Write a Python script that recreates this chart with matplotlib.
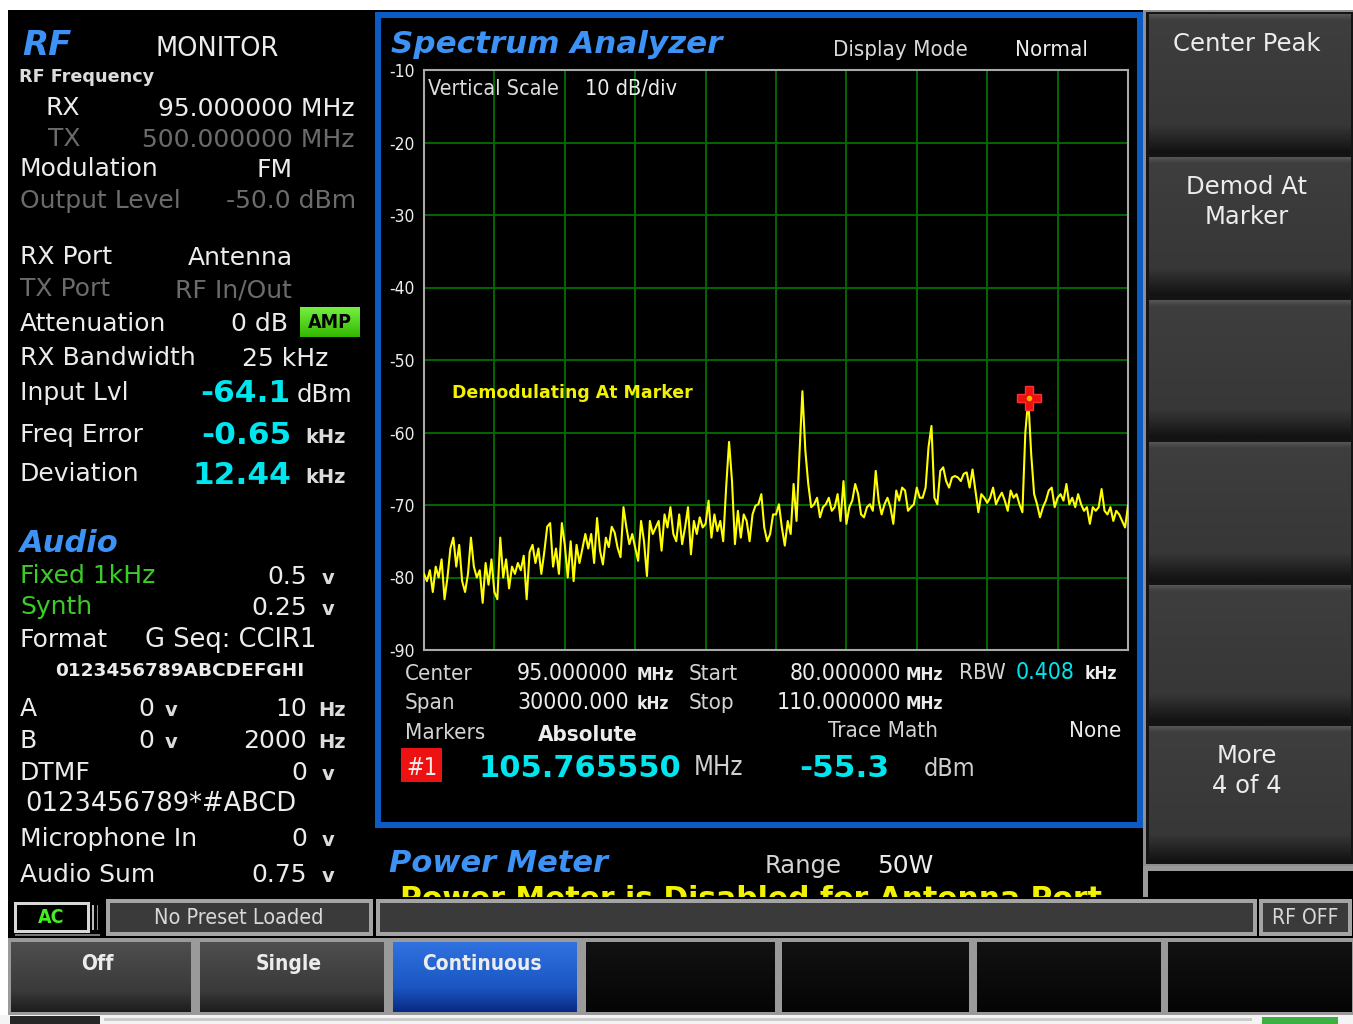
import numpy as np
import matplotlib
matplotlib.use("Agg")
import matplotlib.pyplot as plt
from matplotlib.patches import Rectangle
from matplotlib.colors import LinearSegmentedColormap
from matplotlib import font_manager as fm

W, H = 1353, 1024

# ---------------- data ----------------
sweep_start_mhz = 80.0
sweep_step_mhz = 0.125
trace_dbm = [
    -79.5, -80.5, -79.0, -82.0, -78.5, -80.0, -77.5, -83.0,   # 80
    -80.0, -76.0, -74.5, -78.5, -75.5, -80.5, -82.0, -79.5,   # 81
    -74.5, -78.5, -80.0, -79.0, -83.5, -78.0, -81.0, -77.5,   # 82
    -82.0, -83.0, -74.5, -80.0, -77.5, -81.5, -78.5, -79.5,   # 83
    -78.0, -79.0, -77.0, -83.0, -76.5, -75.5, -78.0, -76.0,   # 84
    -79.5, -76.5, -73.0, -72.5, -78.5, -76.0, -79.5, -72.5,   # 85
    -75.5, -80.0, -75.0, -80.5, -75.5, -78.0, -76.0, -74.0,   # 86
    -76.0, -74.0, -78.0, -71.8, -76.3, -78.2, -74.5, -75.8,   # 87
    -73.0, -73.8, -75.9, -77.2, -70.3, -73.1, -75.4, -74.0,   # 88
    -75.9, -77.7, -72.2, -75.0, -79.8, -72.2, -74.0, -73.1,   # 89
    -72.2, -76.3, -71.3, -73.1, -70.3, -74.0, -75.0, -71.3,   # 90
    -75.4, -73.1, -70.3, -76.8, -72.2, -74.0, -71.7, -73.1,   # 91
    -72.6, -69.4, -74.5, -71.3, -73.6, -72.2, -75.0, -67.6,   # 92
    -61.3, -66.7, -75.4, -70.8, -74.5, -71.3, -72.2, -75.0,   # 93
    -71.3, -70.1, -69.9, -68.5, -73.1, -75.0, -74.0, -71.3,   # 94
    -71.3, -69.9, -73.1, -75.6, -72.2, -74.0, -67.1, -72.2,   # 95
    -63.0, -54.3, -62.5, -67.1, -70.3, -69.9, -69.0, -71.7,   # 96
    -70.3, -69.9, -69.0, -70.8, -70.3, -68.5, -72.2, -66.7,   # 97
    -72.6, -70.3, -69.4, -67.1, -68.5, -71.3, -71.7, -70.3,   # 98
    -69.9, -70.8, -65.3, -69.4, -71.3, -69.9, -69.0, -70.3,   # 99
    -72.6, -68.0, -69.4, -67.6, -68.0, -70.8, -70.3, -69.9,   # 100
    -67.6, -69.0, -69.0, -67.6, -62.0, -59.1, -69.0, -69.9,   # 101
    -65.3, -64.8, -66.7, -67.6, -66.2, -66.0, -66.2, -66.7,   # 102
    -65.7, -65.5, -67.6, -65.1, -68.0, -71.0, -68.5, -69.0,   # 103
    -69.7, -69.0, -67.6, -69.9, -69.0, -68.3, -69.4, -70.8,   # 104
    -68.0, -69.0, -68.5, -69.9, -71.0, -60.0, -55.3, -63.0,   # 105
    -68.5, -69.9, -71.7, -70.3, -69.4, -68.0, -67.6, -70.3,   # 106
    -69.0, -68.5, -69.4, -67.1, -69.9, -69.0, -70.3, -68.5,   # 107
    -69.9, -70.8, -70.3, -72.6, -70.3, -70.8, -70.3, -67.8,   # 108
    -70.8, -71.3, -70.3, -72.2, -70.8, -71.3, -72.2, -73.1,   # 109
    -70.1,                                                    # 110
]
y_tick_values = [-10, -20, -30, -40, -50, -60, -70, -80, -90]
y_tick_labels = ["-10", "-20", "-30", "-40", "-50", "-60", "-70", "-80", "-90"]
x_grid_mhz = [80, 83, 86, 89, 92, 95, 98, 101, 104, 107, 110]
marker_freq_mhz = 105.765550
marker_level_dbm = -55.3

softkeys = ["Center Peak", "Demod At\nMarker", "", "", "", "More\n4 of 4"]
bottom_keys = ["Off", "Single", "Continuous", "", "", "", ""]

# ---------------- fonts ----------------
names = {f.name for f in fm.fontManager.ttflist}
if "DejaVu Sans Condensed" in names:
    COND = dict(fontfamily=["DejaVu Sans Condensed"])
    CSCALE = 1.0
elif any(("Condensed" in f.fname and "DejaVuSans" in f.fname) for f in fm.fontManager.ttflist):
    COND = dict(fontfamily=["DejaVu Sans"], fontstretch="condensed")
    CSCALE = 1.0
elif "Liberation Sans Narrow" in names:
    COND = dict(fontfamily=["Liberation Sans Narrow"])
    CSCALE = 1.08
else:
    COND = dict(fontfamily=["DejaVu Sans"])
    CSCALE = 0.92

WHITE = "#ececec"
GREY = "#6b6b6b"
CYAN = "#00e6ee"
BLUE_T = "#3d93f5"
GREEN_T = "#3ccc28"
YEL = "#f2f200"

fig = plt.figure(figsize=(W / 100, H / 100), dpi=100, facecolor="white")
ui = fig.add_axes([0, 0, 1, 1])
ui.set_axis_off()
ui.set_zorder(0)


def R(x0, y0, x1, y1, color, z=1, **kw):
    ui.add_patch(Rectangle((x0, y0), x1 - x0, y1 - y0, facecolor=color,
                           edgecolor="none", zorder=z, **kw))


def G(x0, y0, x1, y1, stops, z=2):
    cmap = LinearSegmentedColormap.from_list("g", stops)
    arr = np.linspace(0, 1, 128).reshape(-1, 1)
    ui.imshow(arr, cmap=cmap, extent=(x0, x1, y1, y0), aspect="auto",
              zorder=z, interpolation="bilinear", vmin=0, vmax=1)


def T(x, y, s, size, color=WHITE, ha="left", va="baseline", weight="normal",
      style="normal", cond=False, z=5, axes=None):
    kw = {}
    if cond:
        kw.update(COND)
        size = size * CSCALE
    else:
        kw["fontfamily"] = ["DejaVu Sans"]
    tgt = ui if axes is None else axes
    extra = {} if axes is None else {"transform": ui.transData}
    tgt.text(x, y, s, fontsize=size, color=color, ha=ha, va=va,
             fontweight=weight, fontstyle=style, zorder=z, **kw, **extra)


# ---------------- backgrounds ----------------
R(8, 10, W, 1016, "#000000", z=0.5)
# spectrum panel blue frame
R(375, 12, 1143, 828, "#0a5cc4", z=1)
R(381, 18, 1137, 822, "#000000", z=1.1)

# ---------------- left panel ----------------
T(22, 55, "RF", 24.5, BLUE_T, weight="bold", style="italic")
T(155, 56, "MONITOR", 18.5)
T(19, 82, "RF Frequency", 12.7, "#dcdcdc", weight="bold")
T(45, 115, "RX", 18)
T(355, 116, "95.000000 MHz", 18, ha="right")
T(48, 146, "TX", 18, GREY)
T(355, 147, "500.000000 MHz", 18, GREY, ha="right")
T(20, 176, "Modulation", 18)
T(293, 177, "FM", 18, ha="right")
T(20, 208, "Output Level", 18, GREY)
T(356, 208, "-50.0 dBm", 18, GREY, ha="right")
T(20, 264, "RX Port", 18)
T(293, 265, "Antenna", 18, ha="right")
T(20, 296, "TX Port", 18, GREY)
T(292, 297, "RF In/Out", 18, GREY, ha="right")
T(20, 331, "Attenuation", 18)
T(288, 331, "0 dB", 18, ha="right")
G(300, 307, 360, 337, [(0, "#77f040"), (1, "#33b800")], z=2)
T(330, 323, "AMP", 14, "#000000", ha="center", va="center", weight="bold", cond=True)
T(20, 365, "RX Bandwidth", 18)
T(328, 366, "25 kHz", 18, ha="right")
T(20, 400, "Input Lvl", 18)
T(290, 402, "-64.1", 22.5, CYAN, ha="right", weight="bold")
T(297, 402, "dBm", 17.5)
T(20, 442, "Freq Error", 18)
T(291, 444, "-0.65", 22.5, CYAN, ha="right", weight="bold")
T(305, 443, "kHz", 14, "#dcdcdc", weight="bold")
T(20, 481, "Deviation", 18)
T(291, 484, "12.44", 22.5, CYAN, ha="right", weight="bold")
T(305, 483, "kHz", 14, "#dcdcdc", weight="bold")

T(20, 552, "Audio", 22, BLUE_T, weight="bold", style="italic")
T(20, 583, "Fixed 1kHz", 18, GREEN_T)
T(307, 584, "0.5", 18, ha="right")
T(322, 584, "v", 14, "#dcdcdc", weight="bold")
T(20, 614, "Synth", 18, GREEN_T)
T(307, 615, "0.25", 18, ha="right")
T(322, 615, "v", 14, "#dcdcdc", weight="bold")
T(20, 647, "Format", 18)
T(145, 647, "G Seq: CCIR1", 18.5)
T(55, 676, "0123456789ABCDEFGHI", 13.3, weight="bold")
T(20, 716, "A", 18)
T(138, 716, "0", 18)
T(165, 716, "v", 14, "#dcdcdc", weight="bold")
T(307, 716, "10", 18, ha="right")
T(318, 716, "Hz", 14, "#dcdcdc", weight="bold")
T(20, 748, "B", 18)
T(138, 748, "0", 18)
T(165, 748, "v", 14, "#dcdcdc", weight="bold")
T(307, 748, "2000", 18, ha="right")
T(318, 748, "Hz", 14, "#dcdcdc", weight="bold")
T(20, 780, "DTMF", 18)
T(307, 780, "0", 18, ha="right")
T(322, 780, "v", 14, "#dcdcdc", weight="bold")
T(25, 811, "0123456789*#ABCD", 18.5)
T(20, 846, "Microphone In", 18)
T(307, 846, "0", 18, ha="right")
T(322, 846, "v", 14, "#dcdcdc", weight="bold")
T(20, 882, "Audio Sum", 18)
T(307, 882, "0.75", 18, ha="right")
T(322, 882, "v", 14, "#dcdcdc", weight="bold")

# ---------------- spectrum analyzer ----------------
T(391, 53, "Spectrum Analyzer", 22.3, BLUE_T, weight="bold", style="italic", z=3)
T(833, 56, "Display Mode", 16, "#d8d8d8", cond=True, z=3)
T(1015, 56, "Normal", 16, WHITE, cond=True, z=3)

ax = fig.add_axes([424 / W, 1 - 650 / H, (1128 - 424) / W, (650 - 70) / H])
ax.set_zorder(2)
ax.set_facecolor("none")
freqs = sweep_start_mhz + sweep_step_mhz * np.arange(len(trace_dbm))
ax.plot(freqs, trace_dbm, color="#ffff00", lw=1.5, zorder=3)
ax.plot([marker_freq_mhz], [marker_level_dbm], marker="P", ms=17,
        color="#ee1010", mec="#ff3030", zorder=4, linestyle="none")
ax.plot([marker_freq_mhz], [marker_level_dbm], marker="o", ms=3,
        color="#ffb000", zorder=5, linestyle="none")
ax.set_xlim(80, 110)
ax.set_ylim(-90, -10)
ax.set_xticks(x_grid_mhz)
ax.set_yticks(y_tick_values)
ax.set_yticklabels(y_tick_labels)
ax.tick_params(axis="x", length=0, labelbottom=False)
ax.tick_params(axis="y", length=0, pad=7, labelcolor=WHITE)
for lbl in ax.get_yticklabels():
    lbl.set_fontfamily(COND["fontfamily"])
    if "fontstretch" in COND:
        lbl.set_fontstretch(COND["fontstretch"])
    lbl.set_fontsize(12.5 * CSCALE)
ax.grid(True, color="#006800", lw=1.4, zorder=1)
ax.set_axisbelow(True)
for s in ax.spines.values():
    s.set_color("#a8a8a8")
    s.set_linewidth(1.5)

T(428, 95, "Vertical Scale", 15.5, "#dcdcdc", cond=True, z=6, axes=ax)
T(585, 95, "10 dB/div", 15.5, WHITE, cond=True, z=6, axes=ax)
T(452, 398, "Demodulating At Marker", 12.5, YEL, weight="bold", z=6, axes=ax)

# info rows
T(405, 680, "Center", 16, "#d4d4d4", cond=True)
T(517, 680, "95.000000", 16.5, WHITE, cond=True)
T(637, 680, "MHz", 12.5, WHITE, cond=True, weight="bold")
T(689, 680, "Start", 16, "#d4d4d4", cond=True)
T(901, 680, "80.000000", 16.5, WHITE, cond=True, ha="right")
T(906, 680, "MHz", 12.5, WHITE, cond=True, weight="bold")
T(959, 679, "RBW", 16, "#d4d4d4", cond=True)
T(1016, 679, "0.408", 16.5, CYAN, cond=True)
T(1085, 679, "kHz", 12.5, WHITE, cond=True, weight="bold")

T(405, 709, "Span", 16, "#d4d4d4", cond=True)
T(517, 709, "30000.000", 16.5, WHITE, cond=True)
T(637, 709, "kHz", 12.5, WHITE, cond=True, weight="bold")
T(689, 709, "Stop", 16, "#d4d4d4", cond=True)
T(901, 709, "110.000000", 16.5, WHITE, cond=True, ha="right")
T(906, 709, "MHz", 12.5, WHITE, cond=True, weight="bold")

T(405, 739, "Markers", 16, "#d4d4d4", cond=True)
T(538, 741, "Absolute", 16, WHITE, cond=True, weight="bold")
T(828, 737, "Trace Math", 16, "#d4d4d4", cond=True)
T(1121, 737, "None", 16, WHITE, cond=True, ha="right")

R(401, 748, 442, 782, "#ee1111", z=2)
T(421.5, 775, "#1", 17, WHITE, cond=True, ha="center")
T(479, 777, "105.765550", 22, CYAN, weight="bold")
T(694, 775, "MHz", 18.5, "#cfcfcf", cond=True)
T(889, 777, "-55.3", 22.5, CYAN, weight="bold", ha="right")
T(924, 776, "dBm", 18, "#cfcfcf", cond=True)

# ---------------- power meter ----------------
T(389, 872, "Power Meter", 22, BLUE_T, weight="bold", style="italic")
T(765, 873, "Range", 17.5, "#d4d4d4")
T(877, 873, "50W", 18, WHITE)
T(400, 908, "Power Meter is Disabled for Antenna Port", 21.5, YEL, weight="bold", z=2)

# ---------------- right soft keys ----------------
R(1143, 10, W, 866, "#8e8e8e", z=1)
R(1146, 12, W, 864, "#141414", z=1.1)
key_rows = [(14, 153), (157, 296), (300, 438), (442, 581), (585, 722), (726, 862)]
stops_grey = [(0, "#555555"), (0.04, "#3e3e3e"), (0.8, "#373737"), (1, "#121212")]
for (y0, y1), lab in zip(key_rows, softkeys):
    G(1149, y0, 1351, y1, stops_grey, z=2)
    if lab:
        lines = lab.split("\n")
        for i, ln in enumerate(lines):
            T(1247, y0 + 37 + i * 30, ln, 17.5, WHITE, ha="center", z=5)
R(1143, 866, W, 898, "#9a9a9a", z=1)
R(1148, 871, W, 898, "#000000", z=1.1)

# ---------------- status bar ----------------
R(8, 897, W, 939, "#000000", z=6)
R(14, 902, 90, 933, "#d8d8d8", z=6.1)
R(17, 905, 87, 930, "#000000", z=6.2)
T(51, 917.5, "AC", 14, "#44ee22", ha="center", va="center", weight="bold", cond=True, z=7)
R(92, 905, 94, 930, "#bbbbbb", z=6.2)
R(97, 905, 98, 930, "#888888", z=6.2)
R(15, 934, 100, 936, "#777777", z=6.2)
for (x0, x1) in [(106, 373), (376, 1257), (1259, 1352)]:
    R(x0, 899, x1, 936, "#a4a4a4", z=6.1)
    R(x0 + 4, 903, x1 - 4, 932, "#3a3a3a", z=6.2)
T(239, 917.5, "No Preset Loaded", 15.5, "#d8d8d8", ha="center", va="center", cond=True, z=7)
T(1305, 917.5, "RF OFF", 15, "#d8d8d8", ha="center", va="center", cond=True, z=7)

# ---------------- bottom keys ----------------
R(8, 938, W, 1015, "#9a9a9a", z=6)
bottom_x = [(11, 191), (200, 384), (393, 577), (586, 775), (782, 969), (977, 1161), (1168, 1352)]
text_cx = [97, 289, 482]
for i, ((x0, x1), lab) in enumerate(zip(bottom_x, bottom_keys)):
    if i < 2:
        stops = [(0, "#4e4e4e"), (0.7, "#3a3a3a"), (1, "#1c1c1c")]
    elif i == 2:
        stops = [(0, "#2f72e0"), (0.65, "#1b56c2"), (1, "#082a82")]
    else:
        stops = [(0, "#121212"), (1, "#050505")]
    G(x0, 942, x1, 1012, stops, z=6.5)
    if lab:
        T(text_cx[i], 970, lab, 15, WHITE, ha="center", cond=True,
          weight="bold", z=7)

# bottom strip
R(0, 1015, W, H, "#f4f4f4", z=6)
R(10, 1016, 100, H, "#262626", z=6.1)
R(104, 1018, 1252, 1021, "#cccccc", z=6.1)
R(1262, 1017, 1338, H, "#3cb043", z=6.1)

ui.set_xlim(0, W)
ui.set_ylim(H, 0)
fig.savefig("out.png", dpi=100, facecolor="white")
